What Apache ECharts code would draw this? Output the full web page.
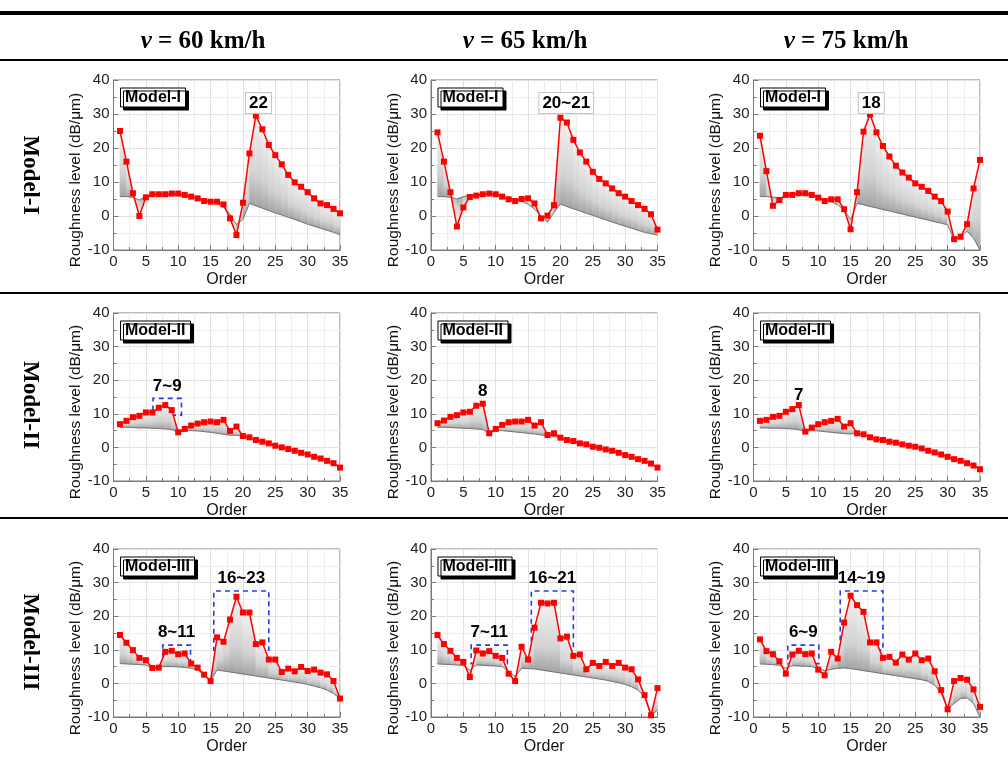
<!DOCTYPE html>
<html><head><meta charset="utf-8">
<script src="https://cdn.jsdelivr.net/npm/echarts@6/dist/echarts.min.js"></script>
<style>html,body{margin:0;padding:0;background:#fff}#c{width:1008px;height:758px}</style>
</head><body><div id="c"></div>
<script>
// ---------------- data ----------------
const orders = [1,2,3,4,5,6,7,8,9,10,11,12,13,14,15,16,17,18,19,20,21,22,23,24,25,26,27,28,29,30,31,32,33,34,35];
const speedLabels = ['60 km/h', '65 km/h', '75 km/h'];
const modelNames = ['Model-I', 'Model-II', 'Model-III'];
const rowLabels = ['Model-I', 'Model-II', 'Model-III'];

// Model-I
const red_I_60  = [25,16,6.7,0,5.5,6.4,6.4,6.4,6.6,6.6,6.2,5.7,5.2,4.4,4.2,4.2,3.4,-0.7,-5.6,3.9,18.4,29.5,25.5,20.9,17.9,15.2,12.1,9.9,8.6,7.0,5.2,3.7,3.2,2.1,0.8];
const base_I_60 = [5.7,5.7,5.5,4.7,5.8,6.0,6.1,6.1,6.1,6.0,5.8,5.5,5.2,4.8,4.2,3.6,2.6,0.5,-2.5,-1.0,3.7,3.0,2.3,1.6,0.9,0.3,-0.4,-1.0,-1.7,-2.4,-3.0,-3.6,-4.2,-4.8,-5.5];
const red_I_65  = [24.6,16,7.0,-3.1,2.5,5.6,6.0,6.4,6.6,6.4,5.7,4.9,4.4,5.0,5.2,3.7,-0.7,0.1,3.2,28.9,27.5,22.4,18.7,16.0,13.0,10.9,9.6,8.1,6.7,5.7,4.4,3.2,2.1,0.5,-4.0];
const base_I_65 = [5.7,5.7,5.5,5.0,5.7,6.2,6.3,6.3,6.3,6.1,5.8,5.4,4.9,4.3,3.5,2.0,0.0,-1.8,1.0,3.5,2.8,2.1,1.5,0.8,0.2,-0.5,-1.1,-1.8,-2.4,-3.0,-3.6,-4.2,-4.8,-5.2,-5.6];
const red_I_75  = [23.6,13.2,3.0,4.7,6.2,6.2,6.7,6.7,6.2,5.4,4.4,4.9,4.9,2.0,-3.9,7.0,24.8,29.9,24.6,20.6,17.5,14.8,12.8,11.3,9.6,8.6,7.4,5.7,4.4,1.3,-6.8,-6.1,-2.4,8.1,16.5];
const base_I_75 = [5.7,5.7,5.6,5.3,5.8,6.2,6.4,6.3,6.0,5.6,5.0,4.2,3.3,1.8,-1.0,3.7,3.3,2.8,2.4,1.9,1.5,1.0,0.6,0.1,-0.3,-0.8,-1.2,-1.7,-2.1,-2.6,-7.0,-6.0,-4.5,-6.5,-10];
// Model-II
const red_II_60  = [6.9,7.9,9.0,9.4,10.4,10.4,11.8,12.6,11.1,4.5,5.5,6.5,7.1,7.5,7.7,7.5,8.2,4.9,6.2,3.4,3.0,2.2,1.7,1.2,0.5,0.0,-0.5,-1.0,-1.6,-2.1,-2.8,-3.3,-4.0,-4.7,-6.0];
const base_II_60 = [6.0,6.0,5.9,5.8,5.8,5.7,5.6,5.5,5.3,4.5,5.0,5.0,4.9,4.7,4.5,4.2,3.9,3.6,3.6,3.4,3.0,2.2,1.7,1.2,0.5,0.0,-0.5,-1.0,-1.6,-2.1,-2.8,-3.3,-4.0,-4.7,-6.0];
const red_II_65  = [7.2,8.0,9.1,9.6,10.4,10.6,12.4,13.0,4.2,5.5,6.7,7.5,7.7,7.7,8.2,6.5,7.5,3.7,4.2,2.9,2.2,1.9,1.2,0.9,0.2,-0.1,-0.6,-1.0,-1.6,-2.3,-2.8,-3.5,-4.0,-4.8,-6.0];
const base_II_65 = [6.0,6.0,5.9,5.8,5.7,5.6,5.5,5.3,4.2,5.0,5.0,4.8,4.6,4.4,4.2,4.0,3.7,3.5,3.2,2.9,2.2,1.9,1.2,0.9,0.2,-0.1,-0.6,-1.0,-1.6,-2.3,-2.8,-3.5,-4.0,-4.8,-6.0];
const red_II_75  = [7.9,8.2,9.1,9.4,10.6,11.4,12.6,4.7,5.9,6.9,7.5,7.9,8.5,6.2,7.2,4.2,3.9,3.0,2.4,2.2,1.7,1.4,0.9,0.5,0.2,-0.3,-1.0,-1.5,-2.1,-2.8,-3.5,-4.0,-4.7,-5.4,-6.5];
const base_II_75 = [5.8,5.8,5.7,5.7,5.6,5.5,5.3,4.7,5.0,4.9,4.7,4.5,4.3,4.1,4.0,4.2,3.9,3.0,2.4,2.2,1.7,1.4,0.9,0.5,0.2,-0.3,-1.0,-1.5,-2.1,-2.8,-3.5,-4.0,-4.7,-5.4,-6.5];
// Model-III
const red_III_60  = [14.4,12.1,9.9,7.6,6.9,4.6,4.7,9.4,9.7,8.7,8.9,5.9,4.7,2.6,0.7,13.7,12.4,19.0,25.8,21.1,21.1,11.7,12.2,7.1,7.1,3.4,4.4,3.6,4.9,3.7,4.1,3.2,2.7,0.7,-4.5];
const base_III_60 = [5.9,5.8,5.7,5.6,5.5,4.6,4.9,5.0,5.0,4.9,4.8,4.5,4.0,2.6,0.7,4.0,3.7,3.4,3.1,2.8,2.5,2.2,1.9,1.6,1.3,1.0,0.7,0.4,0.1,-0.3,-0.8,-1.3,-2.0,-3.0,-4.5];
const red_III_65  = [14.4,11.7,9.7,7.6,6.4,1.9,9.8,8.9,9.6,8.2,7.6,2.9,0.7,10.9,7.1,16.6,24.0,23.8,24.0,13.4,13.9,8.2,8.6,4.2,6.1,5.2,6.4,5.2,6.1,4.7,4.2,1.2,-3.5,-9.5,-1.4];
const base_III_65 = [5.8,5.7,5.6,5.5,5.3,4.0,5.5,5.4,5.3,5.2,5.0,3.5,2.0,4.5,4.4,4.3,4.0,3.7,3.4,3.1,2.8,2.5,2.2,1.9,1.6,1.3,1.0,0.6,0.2,-0.3,-1.0,-2.0,-4.0,-9.5,-8.0];
const red_III_75  = [13.1,9.6,8.7,6.6,2.9,8.6,9.7,8.7,8.9,4.1,2.4,9.4,7.4,18.1,26.1,23.3,21.3,12.2,12.2,7.6,7.9,6.2,8.6,7.1,8.9,6.9,7.4,3.6,-2.0,-7.7,0.7,1.6,1.1,-1.8,-7.0];
const base_III_75 = [5.8,5.7,5.6,5.4,4.5,5.3,5.2,5.1,5.0,4.5,3.8,4.2,4.5,4.6,4.4,4.1,3.8,3.5,3.2,2.9,2.6,2.3,2.0,1.7,1.4,1.1,0.6,-0.5,-3.0,-7.7,-6.0,-4.5,-4.3,-6.0,-10];

// annotations: [text, order, level]
const tags_I_60 = [['22', 22.4, 33.2]];
const tags_I_65 = [['20~21', 20.9, 33.2]];
const tags_I_75 = [['18', 18.2, 33.2]];
const tags_II_65 = [['8', 8, 16.6]];
const tags_II_75 = [['7', 7, 15.6]];
// dashed boxes: [text, x1, y1, x2, y2]
const boxes_II_60  = [['7~9', 6.1, 9.6, 10.5, 14.6]];
const boxes_III_60 = [['8~11', 7.6, 6.1, 11.9, 11.4], ['16~23', 15.5, 9.9, 24.0, 27.5]];
const boxes_III_65 = [['7~11', 6.2, 5.9, 11.8, 11.4], ['16~21', 15.5, 9.9, 22.0, 27.5]];
const boxes_III_75 = [['6~9', 5.3, 5.9, 10.1, 11.4], ['14~19', 13.4, 9.9, 20.0, 27.5]];

// ---------------- layout ----------------
const FONT = 'Liberation Sans, Arial, sans-serif';
const SERIF = 'Liberation Serif, Times New Roman, serif';
const colLeft = [113.5, 431, 753.5];
const plotW = 226.5;
const rowTop = [80, 313, 549];
const plotH = [170, 168, 168];

const panels = [
  {r:0,c:0,red:red_I_60,base:base_I_60,tags:tags_I_60,boxed:true},
  {r:0,c:1,red:red_I_65,base:base_I_65,tags:tags_I_65,boxed:true},
  {r:0,c:2,red:red_I_75,base:base_I_75,tags:tags_I_75,boxed:true},
  {r:1,c:0,red:red_II_60,base:base_II_60,boxes:boxes_II_60},
  {r:1,c:1,red:red_II_65,base:base_II_65,tags:tags_II_65},
  {r:1,c:2,red:red_II_75,base:base_II_75,tags:tags_II_75},
  {r:2,c:0,red:red_III_60,base:base_III_60,boxes:boxes_III_60},
  {r:2,c:1,red:red_III_65,base:base_III_65,boxes:boxes_III_65},
  {r:2,c:2,red:red_III_75,base:base_III_75,boxes:boxes_III_75}
];

function fanRender(params, api) {
  const x0 = api.value(0), b0 = api.value(1), r0 = api.value(2);
  const x1 = api.value(3), b1 = api.value(4), r1 = api.value(5);
  const pA = api.coord([x0, b0]), pB = api.coord([x0, r0]);
  const pC = api.coord([x1, r1]), pD = api.coord([x1, b1]);
  const up = (r0 + r1) >= (b0 + b1);
  const grad = new echarts.graphic.LinearGradient(0, up ? 0 : 1, 0, up ? 1 : 0, [
    {offset:0, color:'#f2f2f2'}, {offset:0.65, color:'#d2d2d2'}, {offset:1, color:'#a2a2a2'}]);
  return {type:'polygon', shape:{points:[pA, pB, pC, pD]},
    style:{fill: grad, stroke: grad, lineWidth: 0.6}};
}

const grid = [], xAxis = [], yAxis = [], series = [], title = [];
const axisCol = '#7a7a7a';
panels.forEach((p, k) => {
  grid.push({left: colLeft[p.c], top: rowTop[p.r], width: plotW, height: plotH[p.r],
    show: true, borderColor: axisCol, borderWidth: 1, backgroundColor: 'transparent'});
  xAxis.push({gridIndex:k, type:'value', min:0, max:35, interval:5,
    axisLine:{show:true, onZero:false, lineStyle:{color:axisCol, width:1}},
    axisTick:{show:true, inside:true, length:5, lineStyle:{color:axisCol}},
    minorTick:{show:true, splitNumber:2, length:3, lineStyle:{color:axisCol}},
    splitLine:{show:true, lineStyle:{color:'#e2e2e2', width:1}},
    minorSplitLine:{show:true, lineStyle:{color:'#eeeeee', width:1}},
    axisLabel:{fontSize:15, color:'#222', margin:4, fontFamily:FONT},
    name:'Order', nameLocation:'middle', nameGap:22,
    nameTextStyle:{fontSize:16, color:'#111', fontFamily:FONT}
  });
  yAxis.push({gridIndex:k, type:'value', min:-10, max:40, interval:10,
    axisLine:{show:true, onZero:false, lineStyle:{color:axisCol, width:1}},
    axisTick:{show:true, inside:true, length:5, lineStyle:{color:axisCol}},
    minorTick:{show:true, splitNumber:2, length:3, lineStyle:{color:axisCol}},
    splitLine:{show:true, lineStyle:{color:'#e2e2e2', width:1}},
    minorSplitLine:{show:true, lineStyle:{color:'#eeeeee', width:1}},
    axisLabel:{fontSize:15, color:'#222', margin:4, fontFamily:FONT},
    name:'Roughness level (dB/\u03bcm)', nameLocation:'middle', nameGap:28, nameRotate:90,
    nameTextStyle:{fontSize:15.5, color:'#111', fontFamily:FONT, padding:[0,30,0,0]}
  });
  title.push({text: modelNames[p.r], left: colLeft[p.c] + 6.5, top: rowTop[p.r] + 7.5,
    padding:[2,5,2,5], backgroundColor:'#fff', borderColor:'#000', borderWidth:1,
    shadowColor:'#000', shadowBlur:0, shadowOffsetX:3, shadowOffsetY:3,
    textStyle:{fontSize:16, fontWeight:'bold', color:'#000', fontFamily:FONT}});

  // gray fan between the lower envelope and the red curve
  const fanData = orders.slice(0, -1).map((o, i) =>
    [o, p.base[i], p.red[i], orders[i + 1], p.base[i + 1], p.red[i + 1]]);
  series.push({type:'custom', xAxisIndex:k, yAxisIndex:k, silent:true, z:1, clip:true,
    data: fanData, encode:{x:[0,3], y:[1,2,4,5]}, renderItem: fanRender, animation:false});
  // lower envelope
  series.push({type:'line', xAxisIndex:k, yAxisIndex:k, silent:true, z:2,
    data: orders.map((o,i) => [o, p.base[i]]),
    symbol:'none', lineStyle:{color:'#666', width:0.8}, animation:false});
  const s = {type:'line', xAxisIndex:k, yAxisIndex:k, z:3,
    data: orders.map((o,i) => [o, p.red[i]]),
    symbol:'rect', symbolSize:6, itemStyle:{color:'#ff0000'},
    lineStyle:{color:'#ff0000', width:1.5}, animation:false};
  if (p.tags) {
    s.markPoint = {symbol:'rect', symbolSize:1, itemStyle:{color:'rgba(0,0,0,0)'}, silent:true,
      label: p.boxed ? {show:true, position:'inside', formatter:'{b}', color:'#000', fontSize:17, fontWeight:'bold',
        fontFamily:FONT, backgroundColor:'#fff', borderColor:'#c4c4c4', borderWidth:1, padding:[2,3,1,3]}
        : {show:true, position:'inside', formatter:'{b}', color:'#000', fontSize:17, fontWeight:'bold', fontFamily:FONT},
      data: p.tags.map(t => ({name:t[0], coord:[t[1], t[2]]}))};
  }
  if (p.boxes) {
    s.markArea = {silent:true,
      itemStyle:{color:'rgba(0,0,0,0)', borderColor:'#2a3ce0', borderWidth:1.6, borderType:[5,4]},
      label:{show:true, position:'top', distance:3, color:'#000', fontSize:17, fontWeight:'bold', fontFamily:FONT},
      data: p.boxes.map(b => [{name:b[0], coord:[b[1], b[2]]}, {coord:[b[3], b[4]]}])};
  }
  series.push(s);
});

const graphic = [
  {type:'rect', shape:{x:0, y:11, width:1008, height:4}, style:{fill:'#000'}},
  {type:'rect', shape:{x:0, y:59, width:1008, height:2}, style:{fill:'#000'}},
  {type:'rect', shape:{x:0, y:292, width:1008, height:2}, style:{fill:'#000'}},
  {type:'rect', shape:{x:0, y:517, width:1008, height:2}, style:{fill:'#000'}}
];
const headerX = [203, 525, 846];
speedLabels.forEach((t, i) => {
  graphic.push({type:'text', x: headerX[i], y: 42, style:{
    text: '{i|v}{n| = ' + t + '}', align:'center', verticalAlign:'middle',
    rich:{
      i:{fontFamily:SERIF, fontSize:25, fontWeight:'bold', fontStyle:'italic', fill:'#000'},
      n:{fontFamily:SERIF, fontSize:25, fontWeight:'bold', fill:'#000'}
    }}});
});
const rowY = [175, 405, 642];
rowLabels.forEach((t, i) => {
  graphic.push({type:'text', x: 30, y: rowY[i], rotation: -Math.PI/2, style:{
    text: t, align:'center', verticalAlign:'middle',
    font: 'bold 23px ' + SERIF, fill:'#000'}});
});

const chart = echarts.init(document.getElementById('c'), null, {renderer:'canvas'});
chart.setOption({animation:false, backgroundColor:'#fff', title, grid, xAxis, yAxis, series, graphic});
</script>
</body></html>
